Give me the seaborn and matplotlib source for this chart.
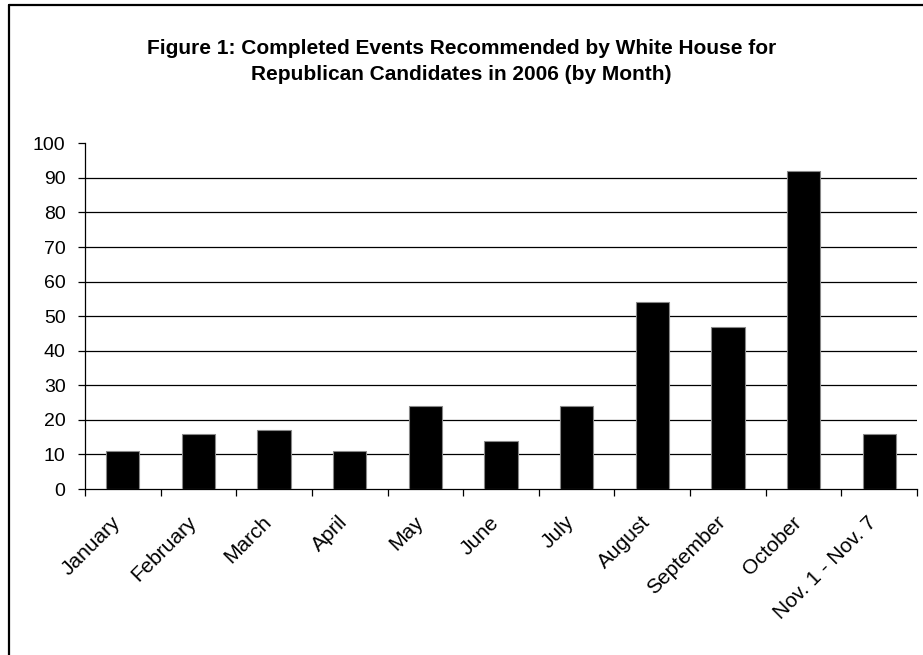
#%% import required libraries
import pandas as pd
import matplotlib
matplotlib.use("Agg")
import matplotlib.pyplot as plt
import matplotlib.transforms as mtransforms
from matplotlib.lines import Line2D
from matplotlib.ticker import MultipleLocator, FixedLocator
import seaborn as sns

##############################################################################
# data
##############################################################################
months = [
    "January", "February", "March", "April", "May", "June",
    "July", "August", "September", "October", "Nov. 1 - Nov. 7",
]
events = [11, 16, 17, 11, 24, 14, 24, 54, 47, 92, 16]

title = ("Figure 1: Completed Events Recommended by White House for\n"
         "Republican Candidates in 2006 (by Month)")

df = pd.DataFrame({"month": months, "events": events})

##############################################################################
# settings
##############################################################################
sns.set_theme(style="white")
plt.rcParams["font.family"] = ["Liberation Sans", "DejaVu Sans"]
plt.rcParams["text.color"] = "black"

fig = plt.figure(figsize=(9.23, 6.55), dpi=100)
ax = fig.add_axes([0.0921, 0.2534, 0.9014, 0.5278])

#%% plot
sns.barplot(
    data=df,
    x="month",
    y="events",
    color="black",
    saturation=1,
    width=0.44,
    edgecolor="#888888",
    linewidth=0.8,
    zorder=3,
    ax=ax,
)

# layout
ax.set_ylim(0, 100)
ax.set_xlim(-0.5, len(months) - 0.5)
ax.yaxis.set_major_locator(MultipleLocator(10))
for v in range(10, 100, 10):
    ax.axhline(v, color="black", linewidth=0.9, zorder=1)

ax.set_xlabel("")
ax.set_ylabel("")
for side in ["top", "right"]:
    ax.spines[side].set_visible(False)
for side in ["left", "bottom"]:
    ax.spines[side].set_color("black")
    ax.spines[side].set_linewidth(0.9)

ax.tick_params(axis="y", which="major", direction="out", length=5, width=0.9,
               color="black", left=True, labelsize=14, pad=9, labelcolor="black")
ax.tick_params(axis="x", which="major", length=0, labelsize=15, pad=17,
               labelcolor="black")
ax.xaxis.set_minor_locator(FixedLocator([i - 0.5 for i in range(len(months) + 1)]))
ax.tick_params(axis="x", which="minor", direction="out", length=5, width=0.9,
               color="black", bottom=True)

# rotated month labels, nudged left like the original
shift = mtransforms.ScaledTranslation(-12 / 100, 0, fig.dpi_scale_trans)
for lbl in ax.get_xticklabels():
    lbl.set_rotation(45)
    lbl.set_ha("right")
    lbl.set_va("top")
    lbl.set_rotation_mode("anchor")
    lbl.set_transform(lbl.get_transform() + shift)

fig.text(0.5, 1 - 39 / 655, title, ha="center", va="top", fontsize=15,
         fontweight="bold", linespacing=1.45, color="black")

# frame around the chart (left and top edges only visible)
fig.add_artist(Line2D([9 / 923, 9 / 923], [0, 1 - 5 / 655],
                      transform=fig.transFigure, color="black", linewidth=1.6))
fig.add_artist(Line2D([9 / 923, 1], [1 - 5 / 655, 1 - 5 / 655],
                      transform=fig.transFigure, color="black", linewidth=1.6))

fig.savefig("out.png", dpi=100)
